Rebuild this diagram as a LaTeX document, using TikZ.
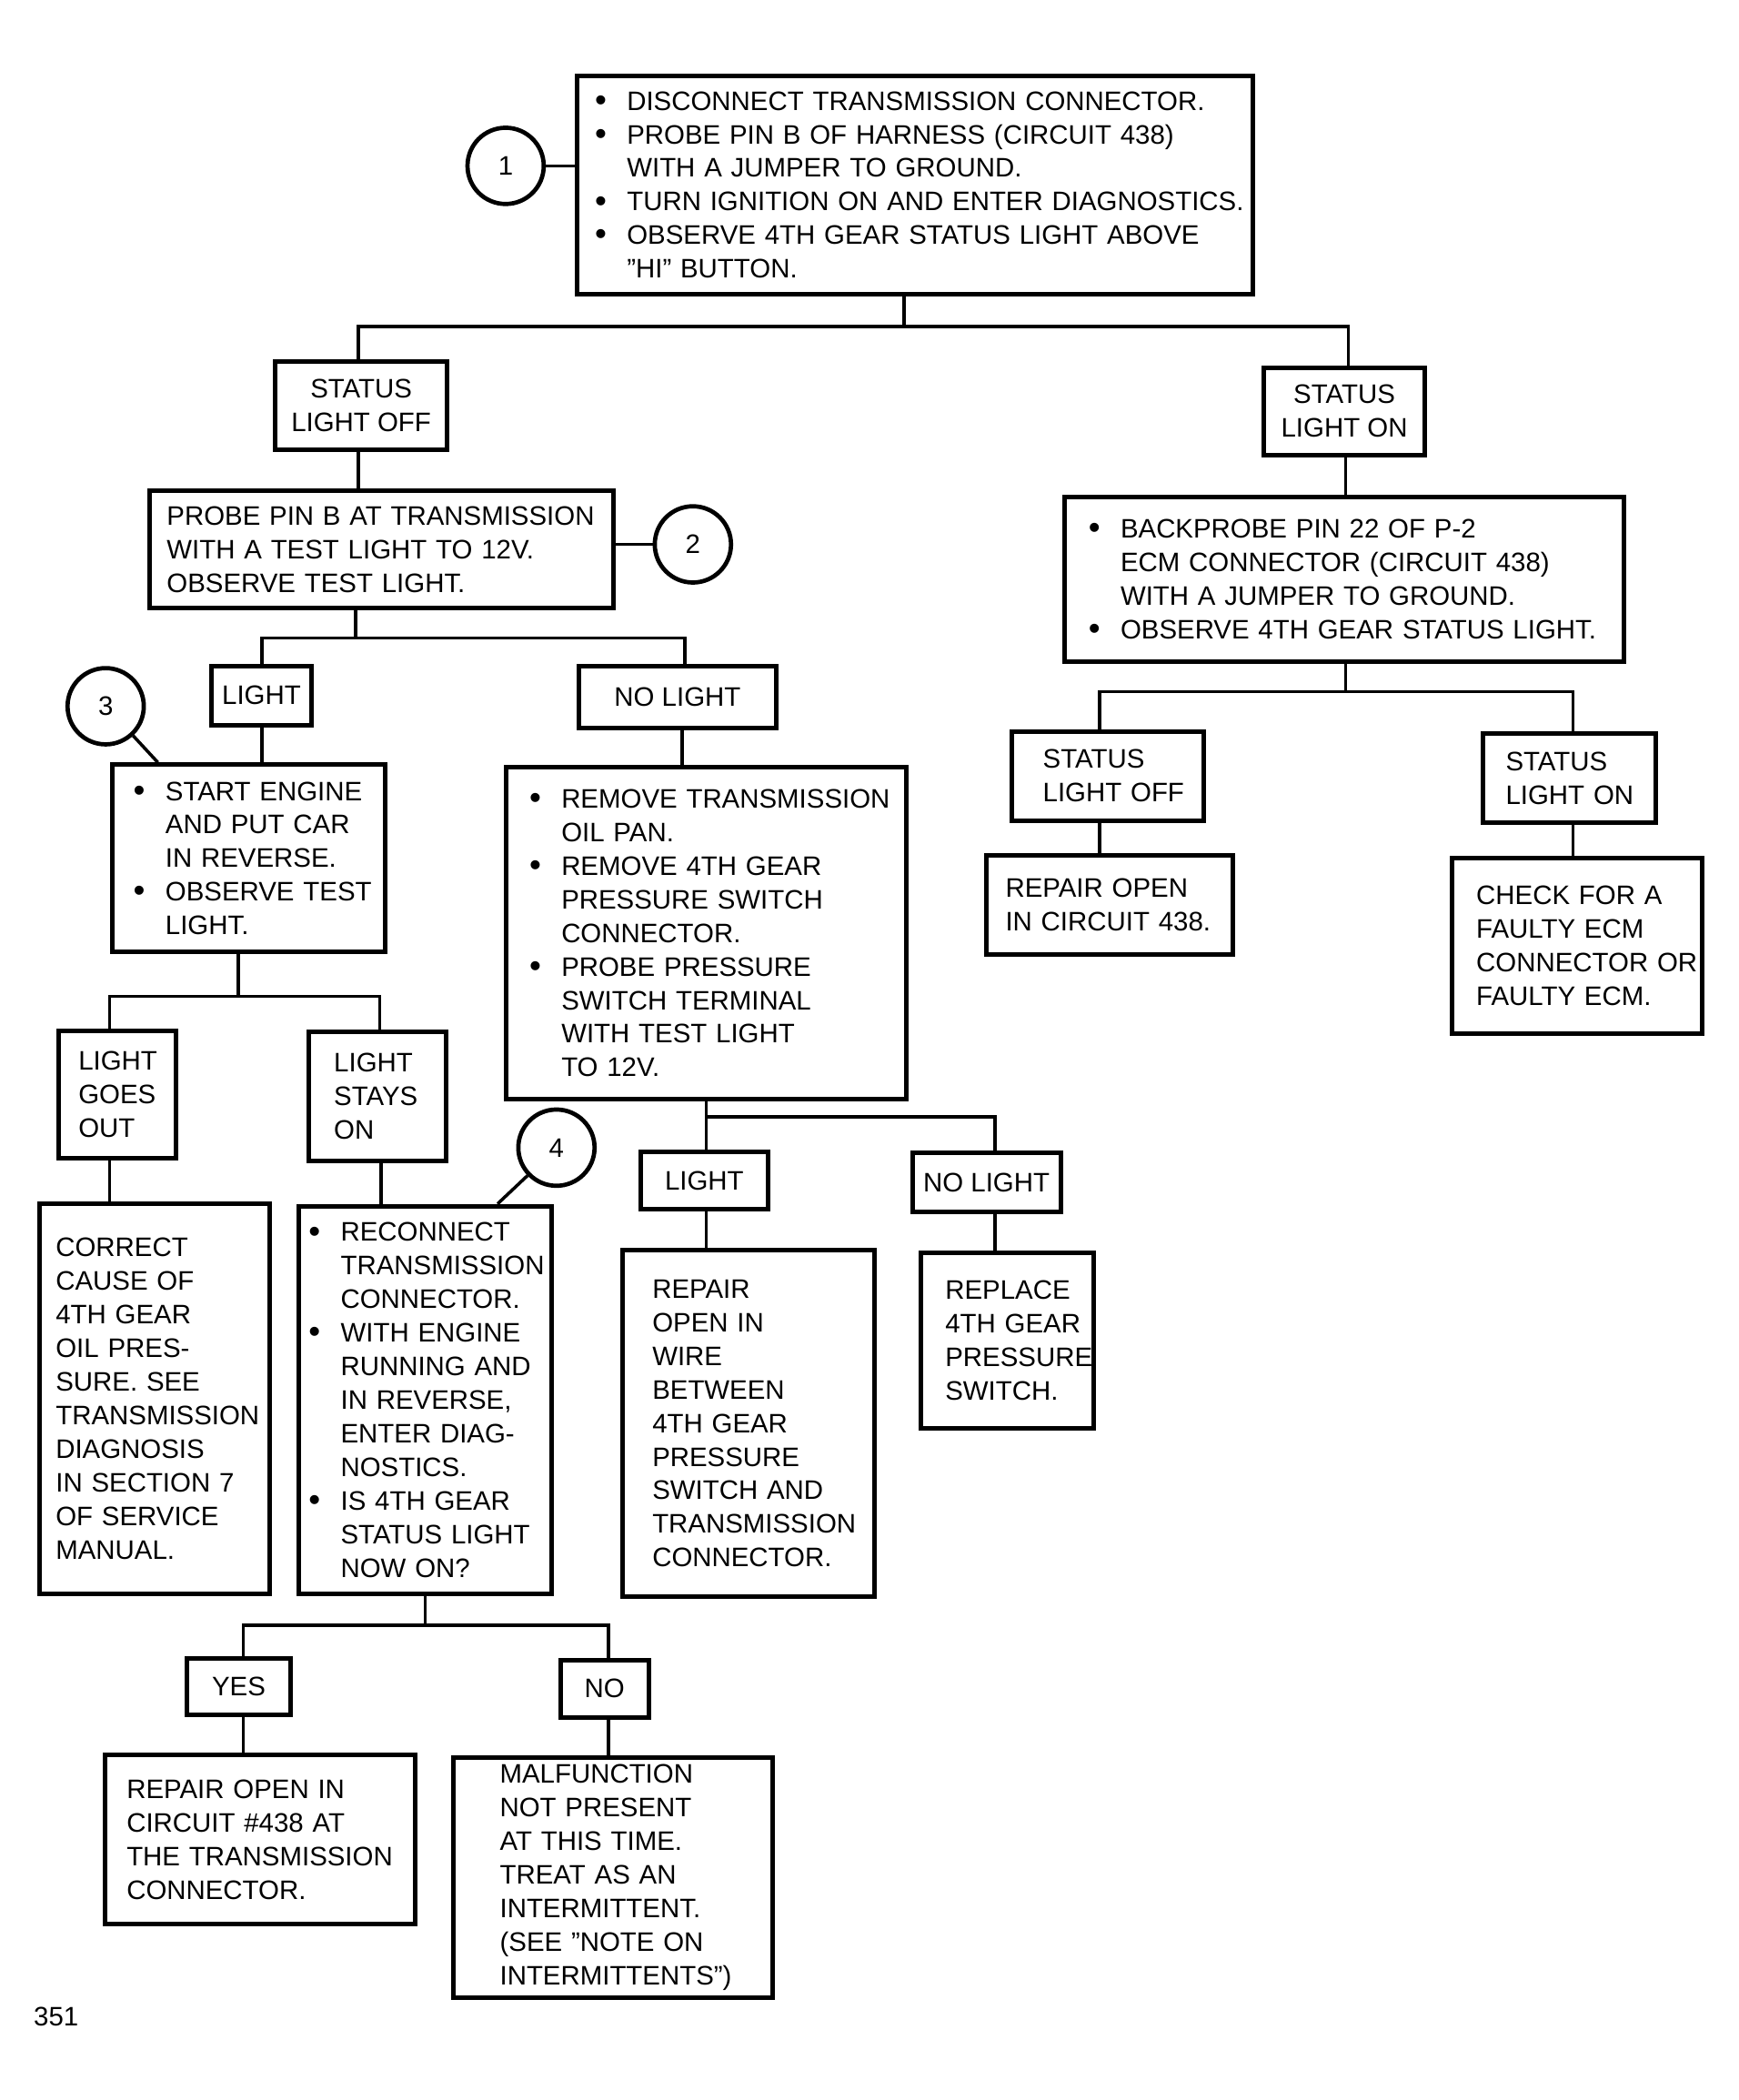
\documentclass[tikz,border=0pt]{standalone}
\usepackage{fontspec}
\setmainfont{Liberation Sans}
\newcommand\bul{\llap{\raisebox{-0.4pt}{\fontsize{12.5pt}{12.5pt}\selectfont\textbullet}\hspace{7.6pt}}}
\begin{document}
\begin{tikzpicture}[x=0.5pt,y=-0.5pt,
  txt/.style={font=\fontsize{10pt}{12.55pt}\selectfont},
  box/.style={txt,draw,line width=1.7pt,inner ysep=0pt,anchor=north west,align=left},
  lbl/.style={txt,draw,line width=1.7pt,inner sep=0pt,align=center},
  num/.style={txt,draw,circle,line width=1.6pt,minimum size=28.5pt,inner sep=0pt},
  conn/.style={line width=1.2pt}]
\fill[white] (0,0) rectangle (1300,1570);
\useasboundingbox (0,0) rectangle (1300,1570);

% top
\node[box,inner xsep=18.5pt,text width=215.5pt,minimum height=81.5pt] (top) at (430,55)
 {\mbox{\bul DISCONNECT TRANSMISSION CONNECTOR.}\\
  \mbox{\bul PROBE PIN B OF HARNESS (CIRCUIT 438)}\\
  \mbox{WITH A JUMPER TO GROUND.}\\
  \mbox{\bul TURN IGNITION ON AND ENTER DIAGNOSTICS.}\\
  \mbox{\bul OBSERVE 4TH GEAR STATUS LIGHT ABOVE}\\
  \mbox{''HI'' BUTTON.}};
\node[num] (c1) at (378,124) {1};

\node[lbl,minimum width=64pt,minimum height=33pt] (slo) at (270,303) {STATUS\\LIGHT OFF};
\node[lbl,minimum width=60pt,minimum height=32.5pt] (slon) at (1005,307.5) {STATUS\\LIGHT ON};

% left branch
\node[box,inner xsep=6.5pt,text width=160.5pt,minimum height=44pt] (probe) at (110,365)
 {\mbox{PROBE PIN B AT TRANSMISSION}\\
  \mbox{WITH A TEST LIGHT TO 12V.}\\
  \mbox{OBSERVE TEST LIGHT.}};
\node[num] (c2) at (518,407) {2};

\node[lbl,minimum width=37.5pt,minimum height=22pt] (light1) at (195.5,520) {LIGHT};
\node[lbl,minimum width=73.5pt,minimum height=23pt] (nolight1) at (506.5,521) {NO LIGHT};

\node[num] (c3) at (79,528) {3};
\node[box,inner xsep=20pt,text width=62pt,minimum height=70pt] (b3) at (82,570)
 {\mbox{\bul START ENGINE}\\
  \mbox{AND PUT CAR}\\
  \mbox{IN REVERSE.}\\
  \mbox{\bul OBSERVE TEST}\\
  \mbox{LIGHT.}};

\node[box,inner xsep=7.5pt,text width=29pt,minimum height=47.5pt] (lgo) at (42,769)
 {\mbox{LIGHT}\\ \mbox{GOES}\\ \mbox{OUT}};
\node[box,inner xsep=9.5pt,text width=32.5pt,minimum height=48pt] (lso) at (229,770)
 {\mbox{LIGHT}\\ \mbox{STAYS}\\ \mbox{ON}};

\node[box,inner xsep=6pt,text width=74pt,minimum height=146pt] (corr) at (28,898)
 {\mbox{CORRECT}\\ \mbox{CAUSE OF}\\ \mbox{4TH GEAR}\\ \mbox{OIL PRES-}\\ \mbox{SURE. SEE}\\
  \mbox{TRANSMISSION}\\ \mbox{DIAGNOSIS}\\ \mbox{IN SECTION 7}\\ \mbox{OF SERVICE}\\ \mbox{MANUAL.}};

\node[num] (c4) at (416,858) {4};
\node[box,inner xsep=15.5pt,text width=63.5pt,minimum height=145pt] (b4) at (222,900)
 {\mbox{\bul RECONNECT}\\ \mbox{TRANSMISSION}\\ \mbox{CONNECTOR.}\\
  \mbox{\bul WITH ENGINE}\\ \mbox{RUNNING AND}\\ \mbox{IN REVERSE,}\\ \mbox{ENTER DIAG-}\\ \mbox{NOSTICS.}\\
  \mbox{\bul IS 4TH GEAR}\\ \mbox{STATUS LIGHT}\\ \mbox{NOW ON?}};

\node[lbl,minimum width=38.5pt,minimum height=21pt] (yes) at (178.5,1261) {YES};
\node[lbl,minimum width=33pt,minimum height=21.5pt] (no) at (452,1262.5) {NO};

\node[box,inner xsep=8pt,text width=100pt,minimum height=63.5pt] (rep438) at (77,1310)
 {\mbox{REPAIR OPEN IN}\\ \mbox{CIRCUIT \#438 AT}\\ \mbox{THE TRANSMISSION}\\ \mbox{CONNECTOR.}};
\node[box,inner xsep=17.5pt,text width=84.5pt,minimum height=90pt] (malf) at (337,1312)
 {\mbox{MALFUNCTION}\\ \mbox{NOT PRESENT}\\ \mbox{AT THIS TIME.}\\ \mbox{TREAT AS AN}\\
  \mbox{INTERMITTENT.}\\ \mbox{(SEE ''NOTE ON}\\ \mbox{INTERMITTENTS'')}};

% middle branch
\node[box,inner xsep=20.5pt,text width=108.5pt,minimum height=124pt] (b5) at (377,572)
 {\mbox{\bul REMOVE TRANSMISSION}\\ \mbox{OIL PAN.}\\
  \mbox{\bul REMOVE 4TH GEAR}\\ \mbox{PRESSURE SWITCH}\\ \mbox{CONNECTOR.}\\
  \mbox{\bul PROBE PRESSURE}\\ \mbox{SWITCH TERMINAL}\\ \mbox{WITH TEST LIGHT}\\ \mbox{TO 12V.}};

\node[lbl,minimum width=47.5pt,minimum height=21.5pt] (light2) at (526.5,882.5) {LIGHT};
\node[lbl,minimum width=55.5pt,minimum height=22pt] (nolight2) at (737.5,884) {NO LIGHT};

\node[box,inner xsep=11pt,text width=72pt,minimum height=129.5pt] (repwire) at (464,933)
 {\mbox{REPAIR}\\ \mbox{OPEN IN}\\ \mbox{WIRE}\\ \mbox{BETWEEN}\\ \mbox{4TH GEAR}\\
  \mbox{PRESSURE}\\ \mbox{SWITCH AND}\\ \mbox{TRANSMISSION}\\ \mbox{CONNECTOR.}};
\node[box,inner xsep=9pt,text width=46.5pt,minimum height=65.5pt] (replace) at (687,935)
 {\mbox{REPLACE}\\ \mbox{4TH GEAR}\\ \mbox{PRESSURE}\\ \mbox{SWITCH.}};

% right branch
\node[box,inner xsep=21pt,text width=167pt,minimum height=61.5pt] (backp) at (794,370)
 {\mbox{\bul BACKPROBE PIN 22 OF P-2}\\ \mbox{ECM CONNECTOR (CIRCUIT 438)}\\
  \mbox{WITH A JUMPER TO GROUND.}\\ \mbox{\bul OBSERVE 4TH GEAR STATUS LIGHT.}};

\node[box,inner xsep=11.5pt,text width=48.5pt,minimum height=33.5pt] (slo2) at (755,545)
 {\mbox{STATUS}\\ \mbox{LIGHT OFF}};
\node[box,inner xsep=8.5pt,text width=47.5pt,minimum height=33pt] (slon2) at (1107,547)
 {\mbox{STATUS}\\ \mbox{LIGHT ON}};

\node[box,inner xsep=7pt,text width=78pt,minimum height=37pt] (repopen) at (736,638)
 {\mbox{REPAIR OPEN}\\ \mbox{IN CIRCUIT 438.}};
\node[box,inner xsep=9pt,text width=75.5pt,minimum height=65.5pt] (check) at (1084,640)
 {\mbox{CHECK FOR A}\\ \mbox{FAULTY ECM}\\ \mbox{CONNECTOR OR}\\ \mbox{FAULTY ECM.}};

\node[txt] (pg) at (42,1508) {351};

% bus points: parent drop and the two child drops
\coordinate (j1) at (676,244);  \coordinate (j1a) at (268,244);  \coordinate (j1b) at (1008,244);
\coordinate (j2) at (266,477);  \coordinate (j2a) at (196,477);  \coordinate (j2b) at (512,477);
\coordinate (j3) at (178,745);  \coordinate (j3a) at (82,745);   \coordinate (j3b) at (284,745);
\coordinate (j4) at (318,1215); \coordinate (j4a) at (182,1215); \coordinate (j4b) at (455,1215);
\coordinate (j5) at (528,835);  \coordinate (j5a) at (528,835);  \coordinate (j5b) at (744,835);
\coordinate (j6) at (1006,517); \coordinate (j6a) at (822,517);  \coordinate (j6b) at (1176,517);

\begin{scope}[conn]
\draw (c1.east) -- (c1.east -| top.west);
\draw (j1 |- top.south) -- (j1);
\draw (j1a |- slo.north) -- (j1a) -- (j1b) -- (j1b |- slon.north);
\draw (j1a |- slo.south) -- (j1a |- probe.north);
\draw (c2.west) -- (c2.west -| probe.east);
\draw (j2 |- probe.south) -- (j2);
\draw (j2a |- light1.north) -- (j2a) -- (j2b) -- (j2b |- nolight1.north);
\draw (j2a |- light1.south) -- (j2a |- b3.north);
\draw (c3.-47) -- ([xshift=18pt]b3.north west);
\draw (j3 |- b3.south) -- (j3);
\draw (j3a |- lgo.north) -- (j3a) -- (j3b) -- (j3b |- lso.north);
\draw (j3a |- lgo.south) -- (j3a |- corr.north);
\draw ([xshift=0.5pt]j3b |- lso.south) -- ([xshift=0.5pt]j3b |- b4.north);
\draw (c4.224) -- ([xshift=75pt]b4.north west);
\draw (j4 |- b4.south) -- (j4);
\draw (j4a |- yes.north) -- (j4a) -- (j4b) -- (j4b |- no.north);
\draw (j4a |- yes.south) -- (j4a |- rep438.north);
\draw (j4b |- no.south) -- (j4b |- malf.north);
\draw ([xshift=-1pt]j2b |- nolight1.south) -- ([xshift=-1pt]j2b |- b5.north);
\draw (j5 |- b5.south) -- (j5);
\draw (j5a |- light2.north) -- (j5a) -- (j5b) -- (j5b |- nolight2.north);
\draw (j5a |- light2.south) -- (j5a |- repwire.north);
\draw (j5b |- nolight2.south) -- (j5b |- replace.north);
\draw (j6 |- slon.south) -- (j6 |- backp.north);
\draw (j6 |- backp.south) -- (j6);
\draw (j6a |- slo2.north) -- (j6a) -- (j6b) -- (j6b |- slon2.north);
\draw (j6a |- slo2.south) -- (j6a |- repopen.north);
\draw (j6b |- slon2.south) -- (j6b |- check.north);
\end{scope}
\end{tikzpicture}
\end{document}
